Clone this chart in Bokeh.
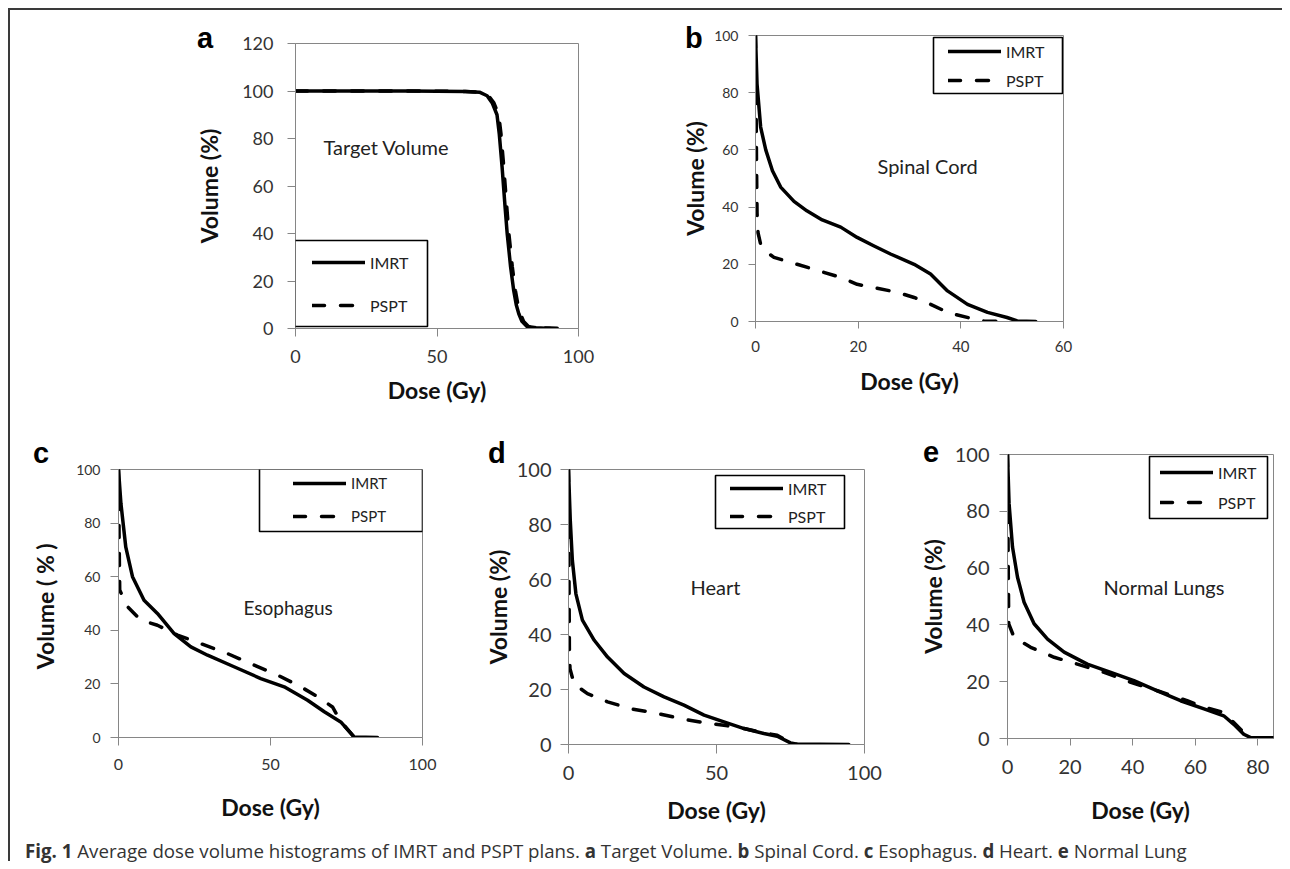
from bokeh.plotting import figure
from bokeh.models import Range1d, FixedTicker, Label, BoxAnnotation, Div, Spacer, Legend
from bokeh.layouts import row, column
from bokeh.embed import file_html
from bokeh.resources import INLINE

# ---------------- data ----------------
series_names = ["IMRT", "PSPT"]
y_axis_titles = ["Volume (%)", "Volume (%)", "Volume  ( % )", "Volume (%)", "Volume (%)"]
x_axis_title = "Dose (Gy)"
panel_letters = ["a", "b", "c", "d", "e"]
organ_names = ["Target Volume", "Spinal Cord", "Esophagus", "Heart", "Normal Lungs"]

a_xticks = [0, 50, 100]
a_yticks = [0, 20, 40, 60, 80, 100, 120]
b_xticks = [0, 20, 40, 60]
pct_ticks = [0, 20, 40, 60, 80, 100]
c_xticks = [0, 50, 100]
d_xticks = [0, 50, 100]
e_xticks = [0, 20, 40, 60, 80]

a_imrt_dose = [0, 20, 40, 60, 65, 67.7, 69.5, 71.2, 72, 73, 74, 74.8, 76, 77.1, 78, 78.9, 80, 81.8, 85, 90]
a_imrt_vol = [100, 100, 100, 99.8, 99.5, 98, 95, 90, 82, 68, 52, 40, 26, 16, 10, 6.2, 3, 0.8, 0.3, 0]
a_pspt_dose = [0, 20, 40, 60, 65, 68.2, 70.1, 71.8, 72.6, 73.6, 74.6, 75.4, 76.6, 77.7, 78.6, 79.5, 80.6, 82.4, 86, 90, 96]
a_pspt_vol = [100, 100, 100, 99.8, 99.5, 98, 95, 90, 82, 68, 52, 40, 26, 16, 10, 6.2, 3, 0.8, 0.3, 0.2, 0]

b_imrt_dose = [0, 0.3, 1, 2, 3.3, 4.9, 7.5, 10, 13, 16.6, 19.8, 23, 26.3, 30.9, 34.1, 37.4, 41.3, 45.2, 49, 51, 54.6]
b_imrt_vol = [100, 83, 68, 60, 52.7, 47, 42, 38.7, 35.5, 33, 29.4, 26.5, 23.6, 20, 16.6, 10.7, 6, 3.2, 1.4, 0.2, 0]
b_pspt_dose = [0, 0.1, 0.2, 0.3, 0.5, 1, 2, 3.6, 8.1, 13.3, 16.6, 19.8, 23, 27.6, 30.9, 34.1, 37.4, 42.6, 44.5, 48]
b_pspt_vol = [100, 80, 55, 38, 31, 27, 24.5, 22.4, 20, 17.2, 15.4, 13, 11.9, 10.2, 8.4, 6, 3.2, 0.8, 0.2, 0]

c_imrt_dose = [0, 0.8, 2.4, 4.6, 8.4, 12.8, 18.3, 23.8, 29.3, 38, 46.8, 54.5, 62.2, 67.7, 73.1, 77.5, 85.2]
c_imrt_vol = [100, 87.3, 71, 60, 51.2, 46.3, 38.8, 33.8, 30.7, 26.4, 22, 18.9, 13.9, 9.6, 5.8, 0.2, 0]
c_pspt_dose = [0, 0.1, 0.2, 0.4, 3, 7.3, 12.8, 19.4, 27.1, 35.9, 44.6, 52.3, 60, 65.5, 70.4, 73.1, 77.5, 80]
c_pspt_vol = [100, 90, 75, 55, 48.8, 43.8, 41.9, 38.2, 35, 31.3, 27, 23.3, 18.9, 15.2, 11.4, 6, 0.2, 0]

d_imrt_dose = [0, 0.6, 1.3, 2.5, 4.7, 8.7, 13.2, 18.8, 25.5, 32.3, 39, 45.8, 52.5, 59.3, 66, 70.5, 75, 77.3, 85, 94.7]
d_imrt_vol = [100, 81.5, 67, 54.8, 45.2, 37.9, 31.8, 25.8, 20.9, 17.3, 14.3, 10.7, 8.2, 5.8, 4, 3, 0.6, 0.1, 0.1, 0]
d_pspt_dose = [0, 0.1, 0.2, 0.3, 0.5, 1.9, 6.4, 13.2, 21, 30, 37.9, 45.8, 52.5, 59.3, 66, 70.5, 75, 77.3]
d_pspt_vol = [100, 80, 55, 35, 27.6, 22, 18.5, 15.5, 13, 11.3, 9.4, 7.9, 7, 5.8, 4.2, 3.4, 0.6, 0]

e_imrt_dose = [0, 0.5, 1.6, 3.2, 5.3, 8.5, 12.8, 18.1, 25.5, 33, 40.4, 47.9, 55.3, 62.8, 69.1, 72.3, 75.5, 77.7, 85]
e_imrt_vol = [100, 82.7, 67.4, 56.8, 48, 40.4, 35, 30.4, 26.2, 23.3, 20.4, 16.8, 13.3, 10.4, 8, 5, 1.5, 0.3, 0.3]
e_pspt_dose = [0, 0.1, 0.2, 0.4, 2.1, 7.4, 14.9, 22.3, 30.9, 39.4, 47.9, 57.4, 62.8, 69.1, 72.3, 75.5, 77.7]
e_pspt_vol = [100, 85, 65, 40.4, 35.6, 32.1, 28.6, 26.2, 23.3, 19.8, 16.8, 13.3, 11, 9.2, 5.6, 2.1, 0.3]

caption_html = ("<b>Fig. 1</b> Average dose volume histograms of IMRT and PSPT plans. "
                "<b>a</b> Target Volume. <b>b</b> Spinal Cord. <b>c</b> Esophagus. "
                "<b>d</b> Heart. <b>e</b> Normal Lung")

# ---------------- styling ----------------
GREY = "#868686"
FONT = "Lato"
LINE_W = 3.5


def panel(i, dose_imrt, vol_imrt, dose_pspt, vol_pspt, xmax, ymax, xticks, yticks, s):
    p = figure(width=s["w"], height=s["h"],
               x_range=Range1d(0, xmax), y_range=Range1d(0, ymax),
               output_backend="svg", toolbar_location=None,
               min_border_left=s["mb"][0], min_border_right=s["mb"][1],
               min_border_top=s["mb"][2], min_border_bottom=s["mb"][3],
               background_fill_color="white", border_fill_color="white",
               outline_line_color=GREY, outline_line_width=1, margin=0)
    p.xgrid.visible = False
    p.ygrid.visible = False
    p.xaxis.ticker = FixedTicker(ticks=xticks)
    p.yaxis.ticker = FixedTicker(ticks=yticks)
    for ax, key in ((p.xaxis[0], "x"), (p.yaxis[0], "y")):
        tick_out, lab_std, ax_std, fsize = s[key]
        ax.axis_line_color = GREY
        ax.major_tick_line_color = GREY
        ax.minor_tick_line_color = None
        ax.major_tick_in = 0
        ax.major_tick_out = tick_out
        ax.major_label_standoff = lab_std
        ax.axis_label_standoff = ax_std
        ax.major_label_text_font = FONT
        ax.major_label_text_font_size = fsize
        ax.major_label_text_color = "#333333"
        ax.axis_label_text_font = FONT
        ax.axis_label_text_font_style = "bold"
        ax.axis_label_text_font_size = "23px"
        ax.axis_label_text_color = "#111111"
    p.xaxis.axis_label = x_axis_title
    p.yaxis.axis_label = y_axis_titles[i]

    r1 = p.line(dose_imrt, vol_imrt, line_color="black", line_width=LINE_W,
                line_join="round", line_cap="round")
    r2 = p.line(dose_pspt, vol_pspt, line_color="black", line_width=LINE_W,
                line_join="round", line_cap="round", line_dash="12 16")

    bl, br, bb, bt = s["box"]
    p.add_layout(BoxAnnotation(left=bl, right=br, bottom=bb, top=bt,
                               left_units="screen", right_units="screen",
                               bottom_units="screen", top_units="screen",
                               fill_alpha=0, line_color="black", line_alpha=1.0,
                               line_width=1.6))
    lx, ly, spacing, lfs = s["leg"]
    leg = Legend(items=[(series_names[0], [r1]), (series_names[1], [r2])],
                 location=(lx, ly), padding=0, margin=0, spacing=spacing,
                 glyph_width=53, glyph_height=20, label_height=20, label_standoff=5,
                 label_text_font=FONT, label_text_font_size=lfs, label_text_color="#222222",
                 background_fill_alpha=0, border_line_alpha=0)
    p.add_layout(leg)

    ox, oy, ofs = s["organ"]
    p.add_layout(Label(x=ox, y=oy, x_units="screen", y_units="screen", text=organ_names[i],
                       text_font=FONT, text_font_size=ofs,
                       text_baseline="alphabetic", text_align="left", text_color="#222222"))
    return p


# frame positions: equal top/bottom borders inside each row, offsets via spacers
pa = panel(0, a_imrt_dose, a_imrt_vol, a_pspt_dose, a_pspt_vol, 100, 120, a_xticks, a_yticks,
           dict(w=415, h=402, mb=(110, 22, 25, 92), x=(8, 13, 10, "18px"), y=(8, 14, 16, "18px"),
                box=(-1, 132, 2, 88), leg=(17, 13, 23, "16px"),
                organ=(28, 182, "20px")))
pb = panel(1, b_imrt_dose, b_imrt_vol, b_pspt_dose, b_pspt_vol, 60, 100, b_xticks, pct_ticks,
           dict(w=425, h=403, mb=(90, 27, 25, 92), x=(7, 12, 12, "15px"), y=(7, 10, 2, "14px"),
                box=(178, 307, 228, 284), leg=(193, 231, 9, "16px"),
                organ=(122, 156, "20px")))
pc = panel(2, c_imrt_dose, c_imrt_vol, c_pspt_dose, c_pspt_vol, 100, 100, c_xticks, pct_ticks,
           dict(w=435, h=393, mb=(108, 23, 34, 91), x=(8, 13, 20, "16px"), y=(8, 10, 14, "14px"),
                box=(141, 304, 206, 269), leg=(175, 211, 13, "15px"),
                organ=(125, 130, "19px")))
pd_ = panel(3, d_imrt_dose, d_imrt_vol, d_pspt_dose, d_pspt_vol, 100, 100, d_xticks, pct_ticks,
            dict(w=440, h=400, mb=(123, 21, 34, 91), x=(9, 12, 13, "20px"), y=(8, 9, 2, "20px"),
                 box=(147, 276, 216, 269), leg=(162, 218, 8, "16px"),
                 organ=(122, 158, "20px")))
pe = panel(4, e_imrt_dose, e_imrt_vol, e_pspt_dose, e_pspt_vol, 85, 100, e_xticks, pct_ticks,
           dict(w=397, h=409, mb=(122, 9, 34, 91), x=(7, 14, 19, "20px"), y=(8, 10, 5, "20px"),
                box=(142, 260, 220, 282), leg=(153, 226, 10, "16px"),
                organ=(96, 152, "20px")))


def shifted(p, dy, w):
    if dy == 0:
        return column(p, spacing=0, margin=0)
    return column(Spacer(width=w, height=dy, margin=0), p, spacing=0, margin=0)


top_row = row(Spacer(width=175, height=410, margin=0), shifted(pa, 8, 415),
              Spacer(width=65, height=410, margin=0), shifted(pb, 0, 425),
              spacing=0, margin=0)
bottom_row = row(shifted(pc, 15, 435), shifted(pd_, 15, 440), shifted(pe, 0, 397),
                 spacing=0, margin=0)

caption = Div(text='<div style="font-family:\'Open Sans\'; font-size:18.7px; color:#333; '
                   'padding-left:15px; position:relative; top:3px; line-height:26px; '
                   'white-space:nowrap;">' + caption_html + '</div>',
              width=1180, height=26, margin=0)

# panel letters: small absolutely positioned texts (positions relative to the caption row)
letter_pos = [(187, -811), (675, -811), (23, -396), (478, -396), (913, -397)]
letter_divs = []
for letter, (lx, ly) in zip(panel_letters, letter_pos):
    letter_divs.append(Div(text=letter, width=18, height=26, margin=0,
                           styles={"position": "absolute", "left": f"{lx}px", "top": f"{ly}px",
                                   "font-family": "Liberation Sans", "font-weight": "bold",
                                   "font-size": "29px", "line-height": "29px", "color": "black"}))
caption_row = row(caption, *letter_divs, spacing=0, margin=0)

top_line = Div(text="", width=1274, height=2, margin=0, styles={"background-color": "#3a3a3a"})
left_line = Div(text="", width=2, height=851, margin=0, styles={"background-color": "#3a3a3a"})

content = column(top_line,
                 row(left_line, column(top_row, bottom_row, caption_row, spacing=0, margin=0),
                     spacing=0, margin=0),
                 spacing=0, margin=0)
page = column(Spacer(width=1282, height=8, margin=0),
              row(Spacer(width=8, height=853, margin=0), content, spacing=0, margin=0),
              spacing=0, margin=0)

open("out.html", "w").write(file_html(page, INLINE))
